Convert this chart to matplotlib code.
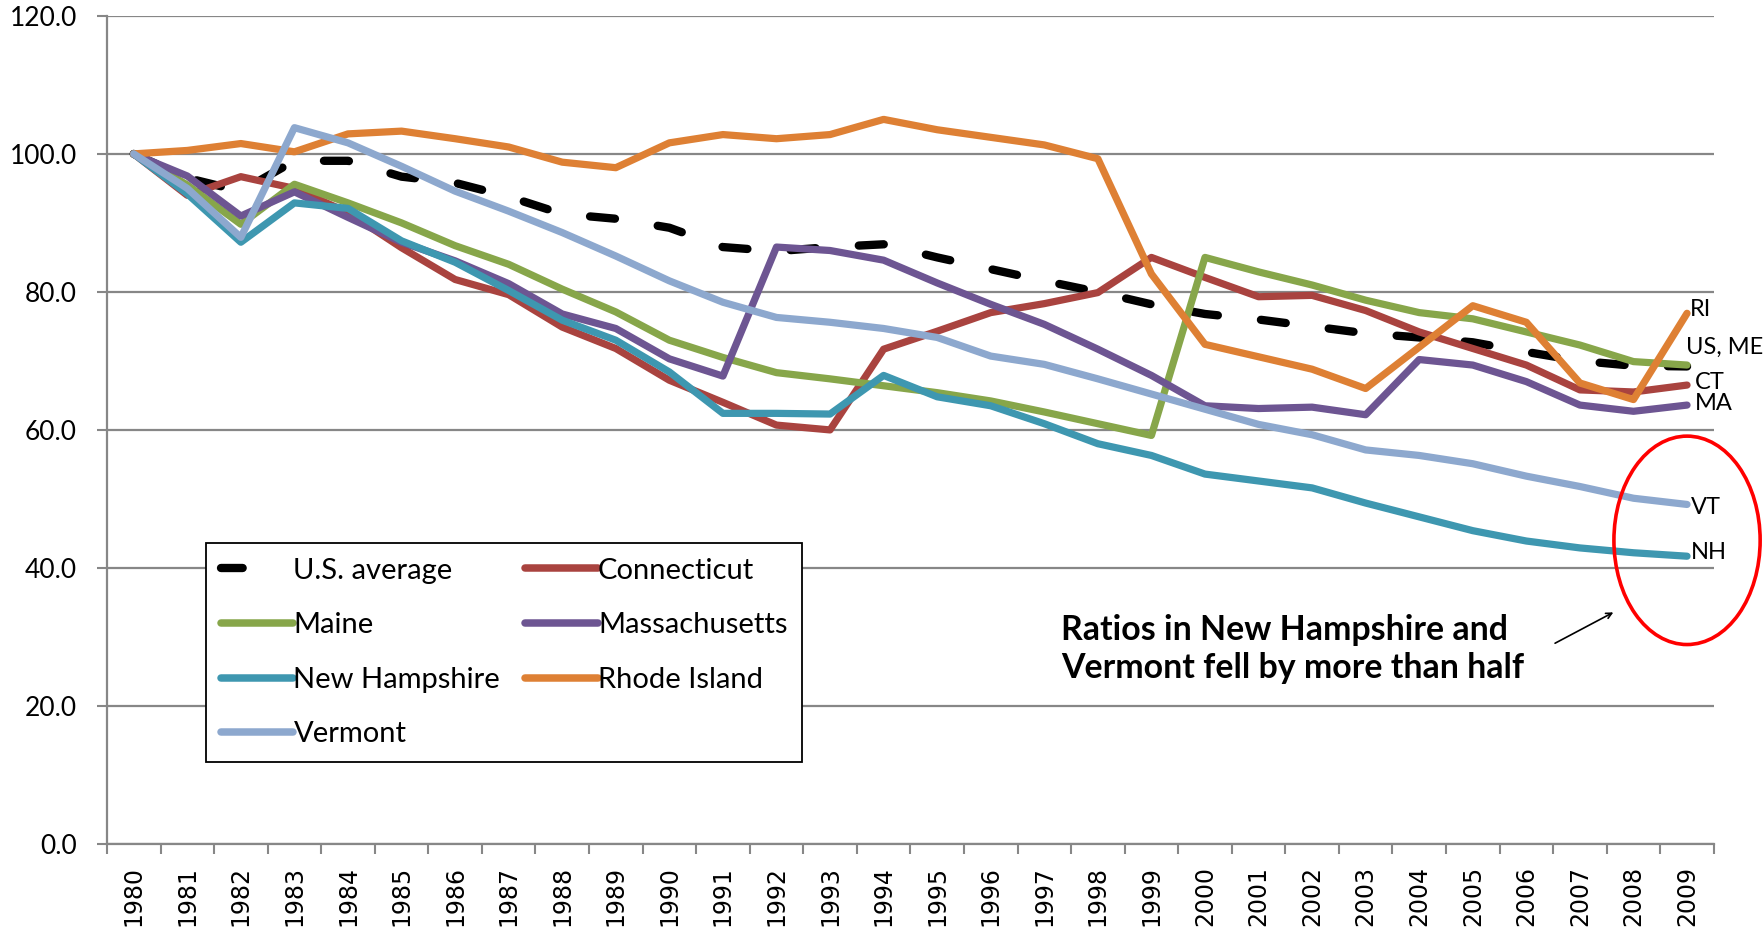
import numpy as np
import matplotlib.pyplot as plt
from matplotlib.patches import Ellipse
from matplotlib.lines import Line2D

years = ['1980', '1981', '1982', '1983', '1984', '1985', '1986', '1987', '1988', '1989',
         '1990', '1991', '1992', '1993', '1994', '1995', '1996', '1997', '1998', '1999',
         '2000', '2001', '2002', '2003', '2004', '2005', '2006', '2007', '2008', '2009']

us_avg = [100.0, 96.5, 94.6, 99.0, 99.0, 96.7, 95.8, 93.8, 91.3, 90.6,
          89.3, 86.5, 85.9, 86.5, 86.9, 85.0, 83.3, 81.6, 80.0, 78.2,
          76.8, 76.0, 75.0, 74.0, 73.4, 72.7, 71.3, 70.0, 69.3, 69.2]
connecticut = [100.0, 94.0, 96.7, 95.0, 91.5, 86.4, 81.8, 79.6, 74.9, 71.8,
               67.2, 64.0, 60.7, 60.0, 71.7, 74.3, 77.0, 78.3, 79.9, 85.0,
               82.1, 79.3, 79.5, 77.3, 74.2, 71.8, 69.4, 65.8, 65.5, 66.5]
maine = [100.0, 95.5, 89.8, 95.6, 92.9, 90.0, 86.7, 84.0, 80.4, 77.1,
         73.0, 70.5, 68.3, 67.4, 66.4, 65.4, 64.2, 62.6, 60.9, 59.2,
         85.0, 82.9, 81.0, 78.8, 77.0, 76.1, 74.2, 72.3, 69.9, 69.4]
massachusetts = [100.0, 96.8, 91.0, 94.5, 90.8, 87.2, 84.5, 81.2, 76.8, 74.7,
                 70.3, 67.8, 86.5, 86.0, 84.6, 81.3, 78.2, 75.3, 71.7, 67.9,
                 63.5, 63.1, 63.3, 62.2, 70.2, 69.4, 67.0, 63.6, 62.7, 63.6]
new_hampshire = [100.0, 94.2, 87.2, 92.9, 92.1, 87.4, 84.3, 80.2, 75.9, 73.0,
                 68.4, 62.4, 62.4, 62.3, 67.9, 64.8, 63.5, 60.9, 58.0, 56.3,
                 53.6, 52.6, 51.6, 49.4, 47.4, 45.4, 43.9, 42.9, 42.2, 41.7]
rhode_island = [100.0, 100.5, 101.5, 100.3, 102.9, 103.3, 102.2, 101.0, 98.8, 98.0,
                101.6, 102.8, 102.2, 102.8, 105.0, 103.5, 102.4, 101.3, 99.3, 82.6,
                72.4, 70.6, 68.8, 66.0, 72.0, 78.0, 75.6, 66.8, 64.4, 76.9]
vermont = [100.0, 95.0, 87.9, 103.8, 101.6, 98.2, 94.6, 91.7, 88.6, 85.2,
           81.6, 78.5, 76.3, 75.6, 74.7, 73.4, 70.7, 69.5, 67.4, 65.2,
           63.0, 60.8, 59.3, 57.1, 56.3, 55.1, 53.3, 51.8, 50.1, 49.2]

# end-of-line labels
end_labels = ['RI', 'US, ME', 'CT', 'MA', 'VT', 'NH']
end_label_y = [77.5, 72.0, 66.9, 63.8, 48.7, 42.2]
end_label_dx = [0.05, -0.02, 0.15, 0.15, 0.08, 0.08]

GRID = '#878787'
fig, ax = plt.subplots(figsize=(17.65, 9.34), dpi=100)
fig.subplots_adjust(left=0.0606, right=0.971, top=0.983, bottom=0.0964)

x = np.arange(len(years))
series = [
    ('U.S. average', us_avg, 'black'),
    ('Connecticut', connecticut, '#A9433F'),
    ('Maine', maine, '#87A64A'),
    ('Massachusetts', massachusetts, '#6D5592'),
    ('New Hampshire', new_hampshire, '#3E97B0'),
    ('Rhode Island', rhode_island, '#DE8034'),
    ('Vermont', vermont, '#8DA8CE'),
]
handles = {}
for name, vals, col in series:
    if name == 'U.S. average':
        ax.plot(x, vals, color=col, lw=6, dashes=(3.0, 5.2),
                dash_capstyle='round', zorder=3)
        # legend only shows one short dash
        handles[name] = Line2D([], [], color=col, lw=6, dashes=(2.6, 30),
                               dash_capstyle='round')
    else:
        ax.plot(x, vals, color=col, lw=5.2, solid_capstyle='round',
                solid_joinstyle='round', zorder=3)
        handles[name] = Line2D([], [], color=col, lw=5.4, solid_capstyle='round')

ax.set_xlim(-0.5, len(years) - 0.5)
ax.set_ylim(0, 120)
ax.set_yticks(np.arange(0, 121, 20))
ax.set_yticklabels(['%.1f' % v for v in np.arange(0, 121, 20)],
                   fontfamily='Lato', fontsize=19)
ax.set_xticks(x)
ax.set_xticklabels(years, rotation=90, fontfamily='DejaVu Sans', fontsize=17)
ax.set_xticks(np.arange(-0.5, len(years), 1), minor=True)
ax.tick_params(axis='x', which='major', length=0, pad=16)
ax.tick_params(axis='x', which='minor', length=7.5, width=1.5, color=GRID, direction='out')
ax.tick_params(axis='y', length=7.5, width=1.5, color=GRID, pad=14)
ax.yaxis.grid(True, color=GRID, lw=1.6)
ax.set_axisbelow(True)
for s in ['top', 'right']:
    ax.spines[s].set_visible(False)
for s in ['left', 'bottom']:
    ax.spines[s].set_color(GRID)
    ax.spines[s].set_linewidth(1.6)

order = ['U.S. average', 'Maine', 'New Hampshire', 'Vermont',
         'Connecticut', 'Massachusetts', 'Rhode Island']
leg = ax.legend([handles[n] for n in order], order, ncol=2, loc='upper left',
                bbox_to_anchor=(0.0616, 0.3633), borderaxespad=0,
                prop={'family': 'Lato', 'size': 21}, handlelength=2.5,
                handletextpad=0.0, columnspacing=0.85, labelspacing=0.98,
                borderpad=0.5, fancybox=False, framealpha=1, edgecolor='black')
leg.get_frame().set_linewidth(1.3)

for lab, yv, dx in zip(end_labels, end_label_y, end_label_dx):
    ax.text(x[-1] + dx, yv, lab, fontfamily='Lato', fontsize=17,
            va='center', ha='left', clip_on=False)

ax.add_patch(Ellipse((x[-1], 44.0), 2.73, 30.2, fill=False, edgecolor='#FF0000',
                     lw=2.6, clip_on=False, zorder=4))

ax.text(17.31, 28.3, 'Ratios in New Hampshire and\nVermont fell by more than half',
        fontfamily='Lato', fontweight='bold', fontsize=24.4, va='center', ha='left',
        linespacing=1.22)
ax.annotate('', xy=(27.67, 33.75), xytext=(26.49, 28.9),
            arrowprops=dict(arrowstyle='->', color='black', lw=1.2))

fig.savefig('out.png', dpi=100)
